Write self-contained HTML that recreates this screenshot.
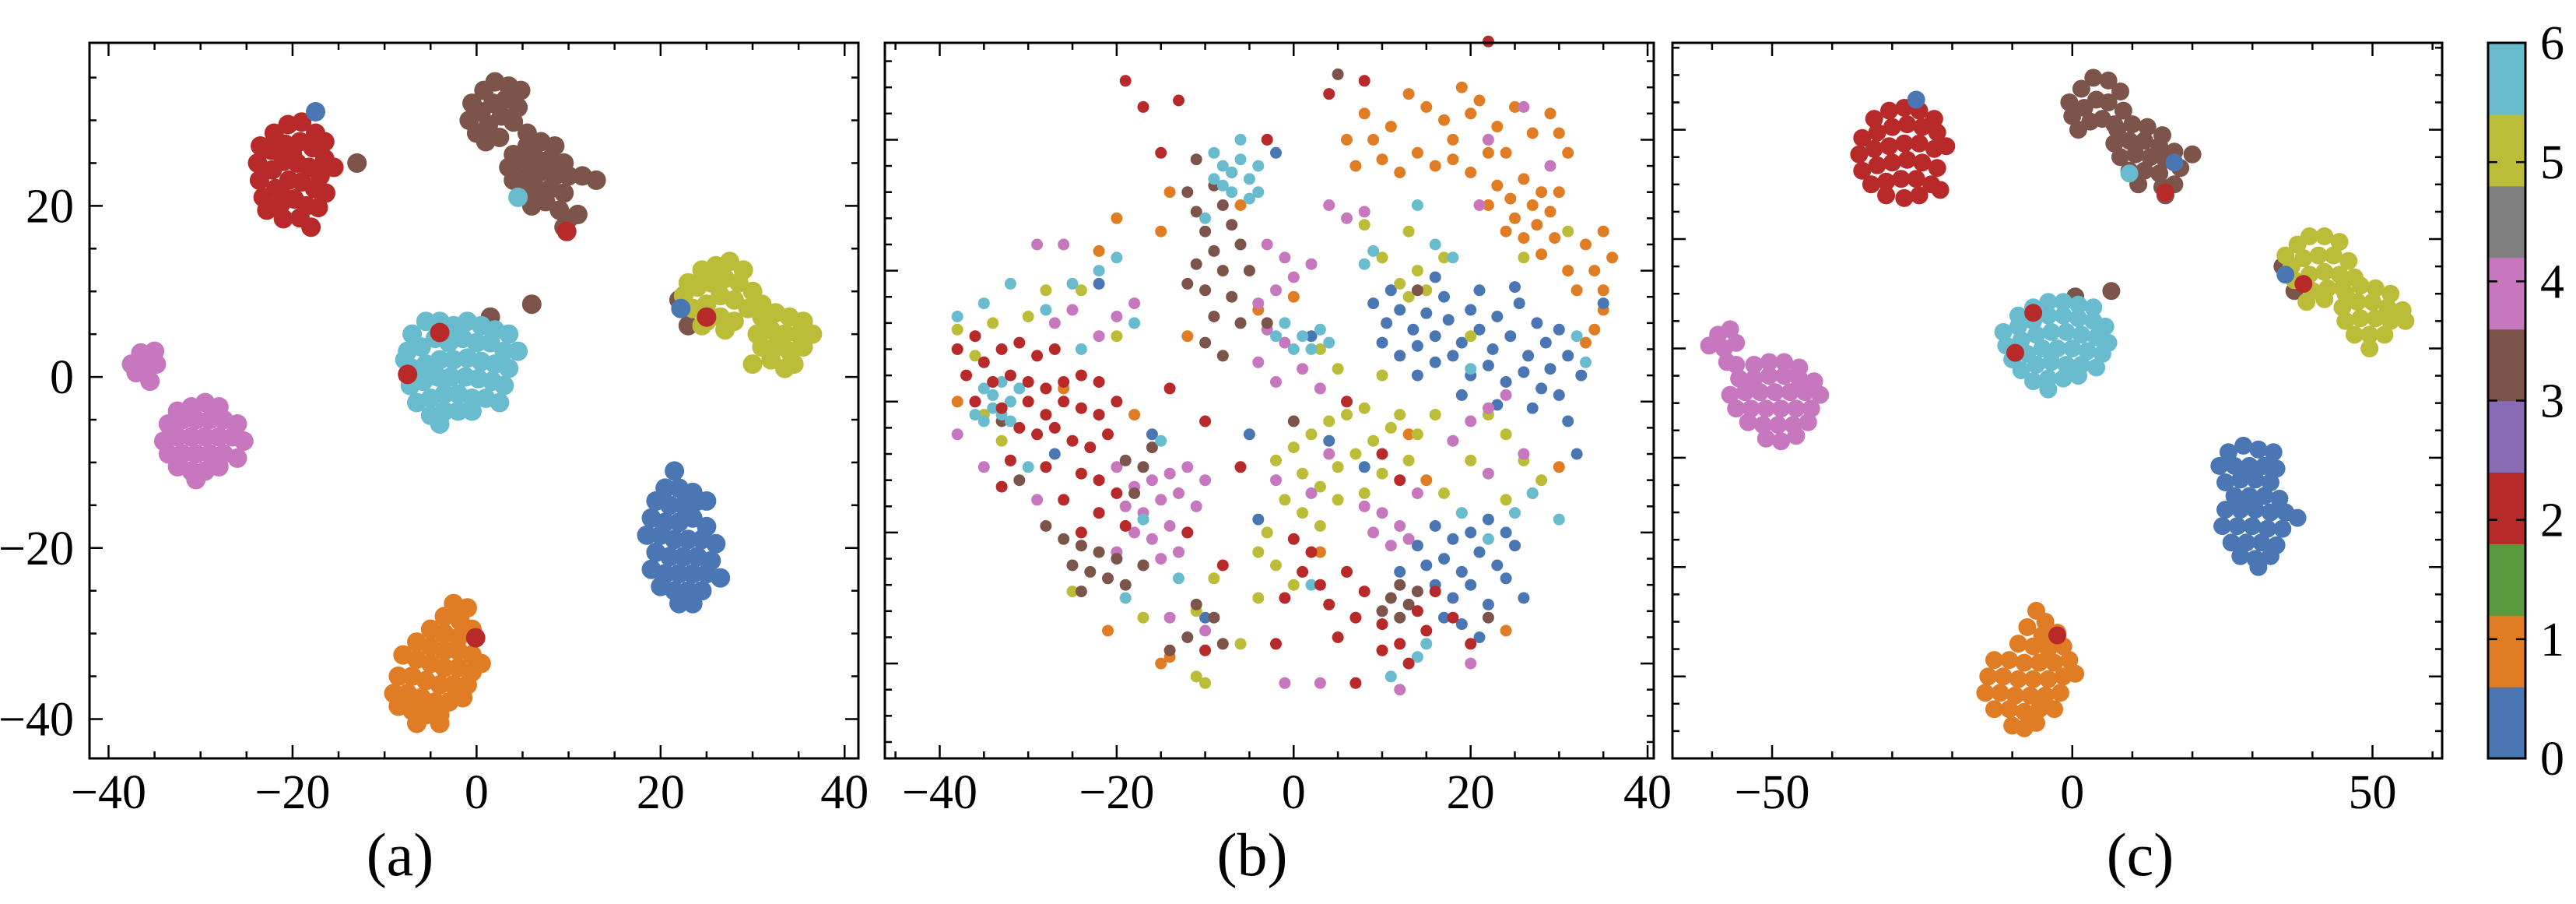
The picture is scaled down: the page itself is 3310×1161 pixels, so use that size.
<!DOCTYPE html>
<html><head><meta charset="utf-8"><style>
html,body{margin:0;padding:0;background:#fff;}
svg{display:block;}
text{font-family:"Liberation Serif",serif;fill:#000;}
</style></head>
<body>
<svg id="fig" width="3310" height="1161" viewBox="0 0 3310 1161" xmlns="http://www.w3.org/2000/svg"></svg>
<script>
// ---------- class colours ----------
const classColors = ["#4a77b3","#e07d24","#b82a2a","#7d5449","#c677bd","#bbbd38","#68bcce"];
const colorbarColors = ["#4a77b3","#e07d24","#5a9a3e","#b82a2a","#8a6bb5","#7d5449","#c677bd","#808080","#bbbd38","#68bcce"];
const colorbarTicks = [0,1,2,3,4,5,6];

// ---------- panel (a) data ----------
const a_red = [[-23.5,27],[-22,28.5],[-20.5,29.5],[-19,29.8],[-17.5,28.5],[-23.8,25],[-22.3,26.5],[-20.8,27.2],[-19.2,27.5],[-17.8,26.8],[-16.5,25.5],[-23.6,23],[-22.2,24.2],[-21,25.2],[-19.5,25],[-18.2,24.5],[-17,23.5],[-23.2,21],[-21.8,22],[-20.4,23],[-19,22.8],[-17.6,22],[-16.4,21.5],[-22.8,19.5],[-21.3,20.2],[-19.8,20.8],[-18.5,20],[-17.2,19.8],[-21,18.5],[-19.2,18.6],[-18,17.5],[-16.5,27.5],[-15.5,24.5],[-20,26],[-21,21]];
const a_brown = [[-0.5,32],[0.8,33.5],[2,34.5],[3.5,34],[4.8,33.5],[-0.8,30],[0.5,31],[1.8,32],[3.2,32.5],[4.5,31.5],[0,28.5],[1.3,29.5],[2.7,30.5],[4,29.8],[1,27.5],[2.5,28],[5.5,28.5],[4,26],[5.5,27],[7,27.5],[8.5,27],[3.5,24.5],[5,25],[6.5,25.5],[8,25.5],[9.5,25],[4,23],[5.5,23.5],[7,24],[8.5,23.5],[10,23.5],[11.5,23.5],[13,23],[5,21.5],[6.5,22],[8,22],[9.5,21.5],[6,20],[7.5,20.5],[9,19.5],[10,18.5],[9.5,17.5],[11,19],[-13,25],[6,8.5],[1.5,7],[22,9],[23,6]];
const a_yellow = [[23,11],[24.5,12.5],[26,13],[27.5,13.5],[29,12.5],[22.5,9.5],[24,10.5],[25.5,11],[27,11.5],[28.5,11],[30,10],[23.5,8],[25,8.5],[26.5,9.5],[28,9],[29.5,8],[31,8.5],[25,6.5],[26.5,7],[28,6.5],[27,5.5],[24.5,6],[31,7],[32.5,7.5],[34,7],[35.5,6.5],[30.5,5],[32,5.5],[33.5,5],[35,5],[36.5,5],[31,3.5],[32.5,3.5],[34,3],[35.5,3.5],[32,2],[33.5,1],[34.5,1.5],[30,1.5]];
const a_cyan = [[-7,5],[-5.5,6.5],[-4,6.5],[-2.5,6],[-1,6.5],[0.5,6],[2,5.5],[3.5,5],[-7.5,3],[-6,3.5],[-4.5,4.5],[-3,4],[-1.5,4.5],[0,4],[1.5,4],[3,3],[4.5,3],[-7,1],[-5.5,1.5],[-4,2],[-2.5,2],[-1,2.2],[0.5,1.8],[2,1.5],[3.5,1],[-7.2,-1],[-5.8,-0.5],[-4.2,0],[-2.8,0],[-1.2,0],[0.2,-0.2],[1.7,-0.5],[3,-1],[-6.5,-3],[-5,-2.5],[-3.5,-2],[-2,-2],[-0.5,-2.5],[1,-2.5],[2.5,-3],[-5,-4.5],[-3.5,-4],[-2,-4],[-0.5,-4],[-4,-5.5],[-7.8,2],[4.5,21]];
const a_pink = [[-37.5,1.5],[-36.5,2.8],[-35,3],[-36,1],[-34.8,1.5],[-35.5,-0.5],[-37,0.5],[-32.5,-4],[-31,-3.5],[-29.5,-3],[-28,-3.5],[-33.5,-5.5],[-32,-5],[-30.5,-5],[-29,-5],[-27.5,-5],[-26,-5.5],[-34,-7.5],[-32.5,-7],[-31,-7],[-29.5,-7],[-28,-7],[-26.5,-7],[-25.3,-7.5],[-33.5,-9],[-32,-9],[-30.5,-9],[-29,-9],[-27.5,-9],[-26,-9.5],[-32.5,-10.5],[-31,-11],[-29.5,-11],[-28,-10.5],[-30.5,-12]];
const a_blue = [[21.5,-11],[20.5,-13],[22,-13],[23.5,-13.5],[19.5,-14.5],[21,-15],[22.5,-15],[24,-14.5],[25,-14.5],[19,-16.5],[20.5,-17],[22,-17],[23.5,-16.5],[25,-17.5],[18.5,-18.5],[20,-18.5],[21.5,-19],[23,-19],[24.5,-19],[26,-19.5],[19.5,-20.5],[21,-21],[22.5,-21],[24,-21],[25.5,-21.5],[19,-22.5],[20.5,-23],[22,-23],[23.5,-23],[25,-23],[26.5,-23.5],[20,-24.5],[21.5,-25],[23,-25],[24.5,-25],[22,-26.5],[23.5,-26.5],[-17.5,31],[22.2,8]];
const a_orange = [[-2.5,-26.5],[-1,-27],[-3.5,-28],[-1.8,-28.5],[-0.5,-29.5],[-5,-29.5],[-3.5,-30],[-2,-30.5],[-6.5,-31],[-5,-31.5],[-3.5,-32],[-2,-32],[-0.5,-32.5],[-8,-32.5],[-6.5,-33],[-5,-33.5],[-3.5,-34],[-2,-34],[-0.5,-34.5],[0.5,-33.5],[-8.5,-35],[-7,-35],[-5.5,-35.5],[-4,-36],[-2.5,-36],[-1,-36],[-9,-37],[-7.5,-37],[-6,-37.5],[-4.5,-38],[-3,-38],[-1.5,-37.5],[-8.5,-38.5],[-7,-39],[-5.5,-39.5],[-4,-39.5],[-6.5,-40.5],[-4,-40.5]];
const a_redOut = [[-7.5,0.3],[-4,5.2],[-0.1,-30.5],[9.8,17],[25,7]];

// ---------- panel (b) data ----------
const b_blue = [[9,15],[10.5,12],[12,14],[13.5,11],[15,13.5],[16,10],[17.5,12.5],[19,9],[20,14],[21,11],[22.5,8],[23,13],[24.5,10],[25.5,15],[26.5,7],[27.5,12],[28.5,9],[29,5],[30,11],[31,7],[32.5,4],[10,9],[12,7],[14,8.5],[16,6],[18,7],[20,4],[22,5.5],[24,3],[26,4.5],[28,2],[30,1],[14,4],[19,1],[23,-0.5],[27,-1],[31,-3],[17,16],[21,17],[25,17.5],[11,17],[16,19],[14,-22],[16,-19],[18,-21],[20,-20],[22,-18],[24,-20],[15,-25],[17,-24],[19,-26],[21,-23],[23,-25],[25,-22],[16,-28],[18,-30],[20,-28],[22,-31],[24,-27],[19,-34],[21,-36],[17,-33],[26,-30],[12,-26],[-2,38],[-22,18],[-16,-5],[-5,-5],[4,-6],[-10,-33],[-27,-8],[-4,-18],[2,10],[8,-10],[32,-8],[35,15]];
const b_orange = [[23,33],[24.5,31],[26,34],[27,30],[28,32],[29,29],[25,28],[27.5,27],[26,25],[29.5,25],[28,22.5],[30,32],[24,26],[22,30],[8,44],[11,42],[13,47],[15,45],[17,43],[19,48],[18,40],[20,44],[21,46],[23,42],[25,45],[27,41],[29,44],[14,38],[16,36],[18,37],[20,35],[12,35],[10,37],[9,40],[6,40],[7,36],[31,38],[30,41],[22,38],[24,38],[33,24],[34,20],[35,17],[36,22],[35,14],[34,11],[32,17],[31,20],[33,9],[35,26],[-20,28],[-15,26],[-14,32],[-22,23],[-6,30],[-4,14],[0,16],[-12,10],[-26,2],[-18,-2],[-38,0],[-21,-35],[-15,-40],[-14,-39],[3,-23],[15,-12],[27,-14],[30,-10],[24,-35],[13,-5]];
const b_red = [[-38,8],[-36,10],[-35,6],[-33,8],[-31,9],[-29,7],[-27,8],[-37,4],[-34,3],[-32,4],[-30,3],[-28,2],[-26,3],[-24,4],[-22,3],[-36,0],[-33,-1],[-30,0],[-28,-2],[-26,0],[-24,-1],[-22,-2],[-20,0],[-31,-4],[-29,-5],[-27,-4],[-25,-6],[-23,-7],[-21,-5],[-32,-9],[-28,-10],[-24,-11],[-22,-12],[-20,-14],[-26,-15],[-22,-17],[-19,-19],[-24,-20],[-33,-13],[0,-21],[2,-23],[1,-26],[3,-28],[-1,-30],[4,-31],[6,-26],[7,-33],[5,-36],[8,-29],[10,-34],[12,-37],[14,-32],[15,-35],[13,-40],[10,-38],[16,-29],[18,-33],[20,-37],[7,-43],[-2,-37],[-8,-25],[-10,-38],[-19,49],[-17,45],[-15,38],[-13,46],[-3,40],[4,47],[8,49],[22,55],[-10,-3],[-6,-10],[6,0],[10,-8],[12,-12],[-14,2],[-12,-20]];
const b_brown = [[-12,32],[-11,29],[-9,33],[-8,30],[-10,26],[-7,27],[-9,23],[-6,24],[-11,21],[-8,20],[-10,17],[-7,16],[-9,13],[-6,12],[-10,9],[-8,7],[-12,18],[-5,20],[-7,35],[-11,37],[-28,-19],[-26,-21],[-24,-22],[-22,-23],[-20,-24],[-25,-25],[-23,-26],[-21,-27],[-19,-28],[-17,-25],[-24,-29],[-18,-14],[-17,-10],[-16,-7],[-19,-9],[-31,-12],[-33,-3],[-11,-31],[-9,-33],[-12,-36],[-8,-37],[-14,-38],[11,-30],[12,-28],[13,-31],[10,-32],[14,-29],[12,-33],[5,50],[0,-3],[-3,12],[14,17],[22,-33]];
const b_pink = [[-20,-10],[-18,-13],[-16,-12],[-14,-11],[-12,-10],[-10,-12],[-19,-16],[-17,-17],[-15,-15],[-13,-14],[-11,-16],[-18,-20],[-16,-21],[-14,-19],[-12,-20],[-15,-24],[-13,-23],[-20,-23],[-17,-25],[-3,24],[-1,22],[-2,17],[0,19],[2,21],[4,30],[6,28],[8,29],[-4,15],[-3,11],[-1,9],[1,5],[-2,3],[3,2],[-4,6],[4,-8],[2,-14],[-2,-12],[8,-16],[10,-17],[12,-19],[11,-22],[13,-21],[9,-20],[14,-14],[20,-3],[22,-1],[24,1],[18,-6],[26,-8],[22,-11],[-29,24],[-26,24],[-20,13],[-18,15],[-25,14],[-27,12],[-22,10],[-29,-15],[-38,-5],[-35,-10],[-14,-33],[-10,-35],[-1,-43],[3,-43],[12,-44],[20,-40],[22,40],[26,45],[29,36],[21,30]];
const b_yellow = [[-2,-9],[0,-7],[2,-5],[4,-3],[6,-2],[8,-1],[1,-11],[3,-13],[5,-10],[7,-8],[9,-6],[11,-4],[-1,-15],[1,-17],[3,-19],[5,-15],[-3,-20],[-4,-23],[-2,-25],[0,-28],[-4,-30],[12,-2],[14,-5],[10,-11],[13,-9],[16,-2],[18,-6],[20,-9],[22,-2],[24,-5],[26,-9],[28,-12],[17,-14],[19,-17],[24,-15],[8,-14],[-9,-27],[-11,-32],[-6,-37],[12,18],[13,16],[14,20],[15,17],[10,22],[8,27],[13,26],[17,22],[26,22],[31,26],[20,10],[-20,10],[-24,17],[-28,17],[-30,13],[-34,12],[-36,7],[-38,11],[-33,-6],[-35,-2],[-32,0],[-25,-29],[-17,-33],[-11,-42],[-10,-43],[5,5],[3,8],[10,4]];
const b_cyan = [[-36,0],[-35,2],[-34,1],[-33,3],[-32,0],[-34,-1],[-35,-3],[-33,-2],[-31,2],[-32,-3],[-36,-2],[-34,3],[-9,38],[-8,36],[-7,35],[-6,37],[-5,34],[-7,32],[-5,31],[-8,33],[-4,36],[-9,34],[-6,40],[-4,32],[-10,28],[-1,12],[1,10],[2,8],[3,11],[0,8],[4,9],[-2,10],[-38,13],[-35,15],[-32,18],[-28,14],[-25,18],[-22,20],[-20,22],[-24,8],[-18,12],[-15,-6],[-17,-18],[-19,-30],[-13,-27],[8,21],[9,23],[14,30],[16,24],[18,22],[20,5],[25,-17],[27,-14],[30,-18],[22,-21],[19,-17],[15,-37],[11,-42],[14,-39],[32,10],[33,6],[2,-28],[-30,-10]];

// ---------- panel (c) data ----------
const c_red = [[-33,42],[-30.5,43.5],[-28,44],[-25.5,43.5],[-23,42],[-35,38.5],[-32.5,39.5],[-30,40.5],[-27.5,41],[-25,40.5],[-22.5,39.5],[-35.5,35.5],[-33,36.5],[-30.5,37],[-28,37.5],[-25.5,37.5],[-23,36.5],[-21,37],[-35,32.5],[-32.5,33.5],[-30,34],[-27.5,34.5],[-25,34],[-22.5,33],[-33.5,30],[-31,30.5],[-28.5,31],[-26,31],[-23.5,30],[-31,28],[-28,27.5],[-25.5,28],[-22,29]];
const c_brown = [[-0.5,45],[1.5,47.5],[3.5,49.5],[6,49],[8,47],[0,42.5],[2,44],[4,45.5],[6,45],[8.5,43.5],[1,40],[3,41.5],[5,42],[7,41],[7.5,40],[10,41],[12.5,40.5],[15,39],[7,37.5],[9.5,38],[12,38],[14.5,37],[17,36],[20,35.5],[8,35],[10.5,35.5],[13,35],[15.5,34.5],[18,33],[9.5,32.5],[12,32.5],[14.5,32],[11,30],[15,29.5],[17,30],[15.5,28],[35,15],[37,10.5],[0.5,9.5],[6.5,10.5]];
const c_yellow = [[35.5,17],[37.5,19],[39.5,20.5],[42,20.5],[44.5,19.5],[36.5,15],[38.5,16.5],[41,17],[43.5,17],[46,16],[37,12.5],[39.5,13.5],[42,14],[44.5,13.5],[47,13],[40,10.5],[42.5,11],[45,11],[39,8.5],[42,9],[45.5,10],[48,11.5],[50.5,11],[53,10],[45,7.5],[47.5,8.5],[50,8.5],[52.5,7.5],[55,7],[45.5,5],[48,5.5],[50.5,5.5],[53,5],[55.5,5],[47,2.5],[49.5,2.5],[52,2.5],[49.5,0]];
const c_cyan = [[-9,6],[-6.5,7.5],[-4,8.5],[-1.5,8.5],[1,8],[3.5,7.5],[-11.5,3],[-9,4],[-6.5,5],[-4,6],[-1.5,6],[1,5.5],[3.5,5],[5.5,4],[-11,0.5],[-8.5,1.5],[-6,2.5],[-3.5,3],[-1,3],[1.5,2.5],[4,2],[6,1],[-10,-2],[-7.5,-1],[-5,0],[-2.5,0],[0,0],[2.5,-0.5],[5,-1],[-8.5,-4],[-6,-3],[-3.5,-2.5],[-1,-3],[1.5,-3],[4,-3.5],[-6.5,-6],[-4,-5.5],[-1.5,-5.5],[1,-5],[-4,-7.5],[9.5,32]];
const c_pink = [[-60.5,0.5],[-59,2.5],[-57,3.5],[-58,0],[-56,1],[-57.5,-2.5],[-56,-3],[-53,-3],[-50.5,-2.5],[-48,-2.5],[-45.5,-3.5],[-55.5,-5.5],[-53,-5.5],[-50.5,-5],[-48,-5],[-45.5,-5.5],[-43,-6],[-57,-8.5],[-54.5,-8],[-52,-8],[-49.5,-8],[-47,-8],[-44.5,-8],[-42,-8.5],[-56,-11],[-53.5,-11],[-51,-11],[-48.5,-11],[-46,-11],[-43.5,-11],[-54,-13.5],[-51.5,-14],[-49,-14],[-46.5,-14],[-44,-13.5],[-51,-16.5],[-48.5,-17],[-46,-16]];
const c_blue = [[26,-19],[28.5,-17.8],[31,-18.5],[33.5,-19],[24.5,-21.5],[27,-21.5],[29.5,-21.5],[32,-21.5],[34,-22],[25.5,-24.5],[28,-24],[30.5,-24],[33,-24.5],[27,-27],[29.5,-27],[32,-27],[34.5,-27.5],[25.5,-29.5],[28,-29.5],[30.5,-29.5],[33,-30],[35.5,-30],[37.5,-31],[25,-32.5],[27.5,-32.5],[30,-32.5],[32.5,-33],[35,-33],[26.5,-35.5],[29,-35.5],[31.5,-35.5],[34,-36],[28,-38],[30.5,-38.5],[33,-38],[31,-40],[-26,45.5],[35.5,13.5],[17,34]];
const c_orange = [[-6,-48],[-4.5,-50],[-7.5,-51],[-5,-52.5],[-2.5,-52],[-9,-54],[-6.5,-54.5],[-4,-55],[-1.5,-54.5],[-13,-57],[-10.5,-57],[-8,-57.5],[-5.5,-57.5],[-3,-57.5],[-0.5,-57],[-14,-60],[-11.5,-60],[-9,-60.5],[-6.5,-60.5],[-4,-60.5],[-1.5,-60],[0.5,-59.5],[-14.5,-63],[-12,-63],[-9.5,-63.5],[-7,-63.5],[-4.5,-63.5],[-2,-63],[-13,-66],[-10.5,-66],[-8,-66.5],[-5.5,-66],[-3,-66],[-10,-69],[-8,-69.5],[-6,-68.5]];
const c_redOut = [[-6.5,6.5],[-9.5,-0.8],[-2.5,-52.5],[15.5,28.5],[38.5,11.8]];

// ---------- tick values ----------
const a_xTicks = [-40,-20,0,20,40];
const a_yTicks = [-40,-20,0,20];
const b_xTicks = [-40,-20,0,20,40];
const b_yTicks = [-40,-20,0,20,40];
const c_xTicks = [-50,0,50];
const c_yTicks = [-60,-40,-20,0,20,40];

const NS = "http://www.w3.org/2000/svg";
const svg = document.getElementById("fig");
function mk(tag, attrs, parent){
  const e = document.createElementNS(NS, tag);
  for (const k in attrs) e.setAttribute(k, attrs[k]);
  (parent||svg).appendChild(e);
  return e;
}
function fmt(v){ return v<0 ? "\u2212"+Math.abs(v) : String(v); }

function panel(cfg){
  const g = mk("g", {});
  
  
  const sx = v => cfg.L + (v - cfg.x0) / (cfg.x1 - cfg.x0) * (cfg.R - cfg.L);
  const sy = v => cfg.B - (v - cfg.y0) / (cfg.y1 - cfg.y0) * (cfg.B - cfg.T);
  const pg = mk("g", {}, g);
  
  
  cfg.series.forEach(s => {
    s.pts.forEach(p => {
      const c = mk("circle", {cx: sx(p[0]).toFixed(1), cy: sy(p[1]).toFixed(1), r: cfg.r, fill: classColors[s.cls]}, pg);
      
      
    });
  });
  const fr = mk("rect", {x: cfg.L, y: cfg.T, width: cfg.R - cfg.L, height: cfg.B - cfg.T, fill: "none", stroke: "#000", "stroke-width": 3}, g);
  
  
  const tk = mk("g", {stroke: "#000", "stroke-width": 2.5}, g);
  
  
  for (let v = Math.ceil(cfg.x0 / cfg.xMinor) * cfg.xMinor; v <= cfg.x1; v += cfg.xMinor) {
    const X = sx(v), len = cfg.xTicks.includes(v) ? 17 : 9;
    mk("line", {x1: X, x2: X, y1: cfg.B, y2: cfg.B - len}, tk);
    mk("line", {x1: X, x2: X, y1: cfg.T, y2: cfg.T + len}, tk);
  }
  for (let v = Math.ceil(cfg.y0 / cfg.yMinor) * cfg.yMinor; v <= cfg.y1; v += cfg.yMinor) {
    const Y = sy(v), len = cfg.yTicks.includes(v) ? 17 : 9;
    mk("line", {x1: cfg.L, x2: cfg.L + len, y1: Y, y2: Y}, tk);
    mk("line", {x1: cfg.R, x2: cfg.R - len, y1: Y, y2: Y}, tk);
  }
  cfg.xTicks.forEach(v => {
    const t = mk("text", {x: sx(v), y: 1038, "text-anchor": "middle", "font-size": 62}, g);
    t.textContent = fmt(v);
    
    
  });
  if (cfg.yLabels) cfg.yTicks.forEach(v => {
    const t = mk("text", {x: cfg.L - 20, y: sy(v) + 21, "text-anchor": "end", "font-size": 62}, g);
    t.textContent = fmt(v);
    
    
  });
  const cap = mk("text", {x: cfg.capX, y: 1124, "text-anchor": "middle", "font-size": 78}, g);
  cap.textContent = cfg.caption;
  
  
}

panel({name: "panel-a", L: 115, R: 1103, T: 55, B: 974, x0: -42.07, x1: 41.5, y0: -44.6, y1: 39.06,
  xTicks: a_xTicks, yTicks: a_yTicks, xMinor: 5, yMinor: 5, yLabels: true, r: 12.5, caption: "(a)", capX: 514,
  series: [{cls:3,pts:a_brown},{cls:2,pts:a_red},{cls:5,pts:a_yellow},{cls:6,pts:a_cyan},{cls:4,pts:a_pink},{cls:0,pts:a_blue},{cls:1,pts:a_orange},{cls:2,pts:a_redOut}]});

panel({name: "panel-b", L: 1137, R: 2125, T: 55, B: 974, x0: -46.2, x1: 40.7, y0: -54.5, y1: 54.8,
  xTicks: b_xTicks, yTicks: b_yTicks, xMinor: 5, yMinor: 4, yLabels: false, r: 7.5, caption: "(b)", capX: 1609,
  series: [{cls:1,pts:b_orange},{cls:0,pts:b_blue},{cls:5,pts:b_yellow},{cls:4,pts:b_pink},{cls:3,pts:b_brown},{cls:6,pts:b_cyan},{cls:2,pts:b_red}]});

panel({name: "panel-c", L: 2149, R: 3138, T: 55, B: 974, x0: -66.6, x1: 61.6, y0: -75, y1: 55.9,
  xTicks: c_xTicks, yTicks: c_yTicks, xMinor: 10, yMinor: 5, yLabels: false, r: 11.5, caption: "(c)", capX: 2750,
  series: [{cls:3,pts:c_brown},{cls:2,pts:c_red},{cls:5,pts:c_yellow},{cls:6,pts:c_cyan},{cls:4,pts:c_pink},{cls:0,pts:c_blue},{cls:1,pts:c_orange},{cls:2,pts:c_redOut}]});

// ---------- colorbar ----------
(function(){
  const L = 3197, R = 3245, T = 55, B = 974;
  const g = mk("g", {});
  
  
  const n = colorbarColors.length, h = (B - T) / n;
  colorbarColors.forEach((c, i) => {
    const r = mk("rect", {x: L, y: (B - (i + 1) * h).toFixed(2), width: R - L, height: (h + 0.6).toFixed(2), fill: c}, g);
    
    
  });
  const fr = mk("rect", {x: L, y: T, width: R - L, height: B - T, fill: "none", stroke: "#000", "stroke-width": 3}, g);
  
  
  const tmin = colorbarTicks[0], tmax = colorbarTicks[colorbarTicks.length - 1];
  colorbarTicks.forEach(v => {
    const Y = B - (v - tmin) / (tmax - tmin) * (B - T);
    mk("line", {x1: R, x2: R - 12, y1: Y, y2: Y, stroke: "#000", "stroke-width": 2.5}, g);
    mk("line", {x1: L, x2: L + 12, y1: Y, y2: Y, stroke: "#000", "stroke-width": 2.5}, g);
    const t = mk("text", {x: 3264, y: Y + 21, "font-size": 62}, g);
    t.textContent = String(v);
    
    
  });
})();
</script>
</body></html>
